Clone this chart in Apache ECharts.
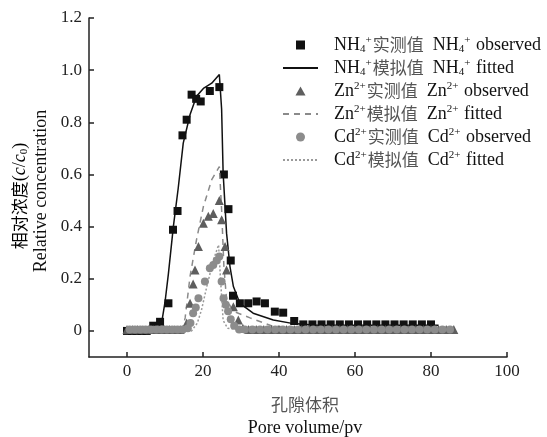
<!DOCTYPE html>
<html>
<head>
<meta charset="utf-8">
<script src="https://cdn.jsdelivr.net/npm/echarts@6/dist/echarts.min.js"></script>
<style>
  html, body { margin: 0; padding: 0; background: #fff; }
  #chart { width: 547px; height: 437px; }
</style>
</head>
<body>
<div id="chart"></div>
<script>
// 数据 (x: pore volume, y: c/c0)
const nh4Observed = [
  [0, 0], [1.3, 0], [2.6, 0], [3.9, 0], [5.2, 0], [6.9, 0.02], [8.7, 0.035],
  [10.9, 0.106], [12.1, 0.388], [13.3, 0.46], [14.6, 0.75], [15.7, 0.81],
  [17.0, 0.906], [18.2, 0.89], [19.4, 0.88], [21.8, 0.92], [24.3, 0.935],
  [25.5, 0.6], [26.7, 0.467], [27.3, 0.27], [27.9, 0.135], [29.7, 0.106],
  [31.9, 0.106], [34.1, 0.113], [36.3, 0.106], [38.9, 0.074], [41.1, 0.07],
  [44.0, 0.038], [46.4, 0.025], [48.8, 0.025], [51.2, 0.025], [53.6, 0.025],
  [56.0, 0.025], [58.4, 0.025], [60.8, 0.025], [63.2, 0.025], [65.6, 0.025],
  [68.0, 0.025], [70.4, 0.025], [72.8, 0.025], [75.2, 0.025], [77.6, 0.025],
  [80.0, 0.025]
]
const nh4Fitted = [
  [0, 0], [7.4, 0], [9.1, 0.03], [10.0, 0.11], [10.9, 0.22], [12.2, 0.4],
  [13.5, 0.55], [14.8, 0.72], [16.6, 0.83], [18.3, 0.9], [20.1, 0.93],
  [22.3, 0.95], [24.3, 0.983], [24.9, 0.85], [25.3, 0.605], [26.2, 0.375],
  [27.1, 0.247], [28.0, 0.17], [29.7, 0.106], [33.2, 0.068], [38.5, 0.042],
  [43.8, 0.028], [50, 0.022], [82, 0.022]
]
const znObserved = [
  [0, 0.005], [1.4, 0.005], [2.8, 0.005], [4.2, 0.005], [5.6, 0.005], [7.0, 0.005],
  [8.4, 0.005], [9.8, 0.005], [11.2, 0.005], [12.6, 0.005], [14.0, 0.005],
  [15.7, 0.03], [16.6, 0.106], [17.4, 0.18], [17.9, 0.234], [18.8, 0.324],
  [20.1, 0.413], [21.4, 0.44], [22.7, 0.45], [24.3, 0.5], [24.9, 0.426],
  [25.8, 0.324], [26.2, 0.234], [28.0, 0.093], [29.3, 0.042], [30.5, 0.01],
  [32.0, 0.005], [34.0, 0.005], [36.0, 0.005], [38.0, 0.005], [40.0, 0.005],
  [42.0, 0.005], [44.0, 0.005], [46.0, 0.005], [48.0, 0.005], [50.0, 0.005],
  [52.0, 0.005], [54.0, 0.005], [56.0, 0.005], [58.0, 0.005], [60.0, 0.005],
  [62.0, 0.005], [64.0, 0.005], [66.0, 0.005], [68.0, 0.005], [70.0, 0.005],
  [72.0, 0.005], [74.0, 0.005], [76.0, 0.005], [78.0, 0.005], [80.0, 0.005],
  [82.0, 0.005], [84.0, 0.005], [86.0, 0.005]
]
const znFitted = [
  [0, 0], [14.5, 0], [15.3, 0.05], [16.6, 0.21], [18.3, 0.35], [20.1, 0.477],
  [22.3, 0.58], [24.3, 0.63], [24.9, 0.465], [25.5, 0.247], [26.2, 0.12],
  [28.0, 0.075], [32.4, 0.05], [38.0, 0.02], [45.0, 0.01], [86.0, 0.01]
]
const cdObserved = [
  [0.7, 0.005], [2.1, 0.005], [3.5, 0.005], [4.9, 0.005], [6.3, 0.005], [7.7, 0.005],
  [9.1, 0.005], [10.5, 0.005], [11.9, 0.005], [13.3, 0.005], [14.7, 0.005],
  [16.0, 0.01], [16.7, 0.03], [17.4, 0.068], [18.1, 0.09], [18.8, 0.125],
  [20.5, 0.19], [21.8, 0.24], [22.7, 0.253], [23.6, 0.27], [24.3, 0.285],
  [24.9, 0.19], [25.4, 0.125], [26.0, 0.1], [26.6, 0.075], [27.3, 0.045],
  [28.2, 0.02], [29.5, 0.005], [31.0, 0.005], [33.0, 0.005], [35.0, 0.005],
  [37.0, 0.005], [39.0, 0.005], [41.0, 0.005], [43.0, 0.005], [45.0, 0.005],
  [47.0, 0.005], [49.0, 0.005], [51.0, 0.005], [53.0, 0.005], [55.0, 0.005],
  [57.0, 0.005], [59.0, 0.005], [61.0, 0.005], [63.0, 0.005], [65.0, 0.005],
  [67.0, 0.005], [69.0, 0.005], [71.0, 0.005], [73.0, 0.005], [75.0, 0.005],
  [77.0, 0.005], [79.0, 0.005], [81.0, 0.005], [83.0, 0.005], [85.0, 0.005]
]
const cdFitted = [
  [0, 0], [17.0, 0], [18.5, 0.03], [19.6, 0.08], [21.0, 0.17], [22.7, 0.27],
  [24.1, 0.33], [24.6, 0.2], [25.3, 0.04], [26.5, 0.01], [30.0, 0.005],
  [86.0, 0.005]
]
const xTicks = [0, 20, 40, 60, 80, 100]
const yTicks = [0, 0.2, 0.4, 0.6, 0.8, 1.0, 1.2]

const serif = '"Liberation Serif", "Noto Sans CJK SC", serif'
const cjk = '"Noto Sans CJK SC", "Liberation Serif", serif'

const legendText = {
  nh4Obs: "{t|NH}{sub|4}{sup|+}{c|实测值}{t|  NH}{sub|4}{sup|+}{t| observed}",
  nh4Fit: "{t|NH}{sub|4}{sup|+}{c|模拟值}{t|  NH}{sub|4}{sup|+}{t| fitted}",
  znObs: "{t|Zn}{sup|2+}{c|实测值}{t|  Zn}{sup|2+}{t| observed}",
  znFit: "{t|Zn}{sup|2+}{c|模拟值}{t|  Zn}{sup|2+}{t| fitted}",
  cdObs: "{t|Cd}{sup|2+}{c|实测值}{t|  Cd}{sup|2+}{t| observed}",
  cdFit: "{t|Cd}{sup|2+}{c|模拟值}{t|  Cd}{sup|2+}{t| fitted}",
}

const richText = {
  t: { fontFamily: serif, fontSize: 18, lineHeight: 20, color: "#111" },
  c: { fontFamily: cjk, fontSize: 17, lineHeight: 20, color: "#555" },
  sub: { fontFamily: serif, fontSize: 11, lineHeight: 10, color: "#111", padding: [9, 0, 0, 0] },
  sup: { fontFamily: serif, fontSize: 11, lineHeight: 10, color: "#111", padding: [0, 1, 9, 0] },
  i: { fontFamily: serif, fontSize: 18, lineHeight: 20, fontStyle: "italic", color: "#111" },
}

const lineIcon = { itemStyle: { opacity: 0 } }

const chart = echarts.init(document.getElementById("chart"))

const option = {
  animation: false,
  backgroundColor: "#fff",
  grid: { left: 89, right: 40, top: 18, bottom: 80, outerBoundsMode: "none" },
  legend: {
    data: [
      { name: "nh4Obs", icon: "path://M0,0L10,0L10,10L0,10Z" },
      Object.assign({ name: "nh4Fit" }, lineIcon),
      { name: "znObs", icon: "path://M5,0L10,9L0,9Z" },
      Object.assign({ name: "znFit" }, lineIcon),
      { name: "cdObs", icon: "circle" },
      Object.assign({ name: "cdFit" }, lineIcon),
    ],
    orient: "vertical",
    left: 282,
    top: 35,
    padding: 0,
    itemWidth: 35,
    itemHeight: 9,
    itemGap: 3,
    formatter: (name) => legendText[name],
    textStyle: { padding: [0, 0, 0, 11], rich: richText },
  },
  xAxis: {
    type: "value",
    min: -10,
    max: 100,
    axisLine: { onZero: false, lineStyle: { color: "#222", width: 1.5 } },
    axisTick: { inside: true, length: 5, customValues: xTicks, lineStyle: { color: "#222", width: 1.5 } },
    axisLabel: { customValues: xTicks, margin: 6, fontFamily: serif, fontSize: 17, color: "#222" },
    splitLine: { show: false },
  },
  yAxis: {
    type: "value",
    min: -0.1,
    max: 1.2,
    axisLine: { show: true, onZero: false, lineStyle: { color: "#222", width: 1.5 } },
    axisTick: { show: true, inside: true, length: 5, customValues: yTicks, lineStyle: { color: "#222", width: 1.5 } },
    axisLabel: {
      customValues: yTicks,
      margin: 7,
      fontFamily: serif,
      fontSize: 17,
      color: "#222",
      formatter: (v) => (Math.abs(v) < 1e-9 ? "0" : v.toFixed(1)),
    },
    splitLine: { show: false },
  },
  graphic: [
    {
      type: "text", x: 20, y: 196, rotation: Math.PI / 2,
      style: {
        text: "{c|相对浓度}{t|(}{i|c}{t|/}{i|c}{sub|0}{t|)}",
        rich: richText, align: "center", verticalAlign: "middle",
      },
    },
    {
      type: "text", x: 41, y: 191, rotation: Math.PI / 2,
      style: {
        text: "Relative concentration", fontFamily: serif, fontSize: 18, fill: "#111",
        align: "center", verticalAlign: "middle",
      },
    },
    {
      type: "text", x: 305, y: 405,
      style: { text: "孔隙体积", fontFamily: cjk, fontSize: 17, fill: "#555", align: "center", verticalAlign: "middle" },
    },
    {
      type: "text", x: 305, y: 428,
      style: { text: "Pore volume/pv", fontFamily: serif, fontSize: 18, fill: "#111", align: "center", verticalAlign: "middle" },
    },
  ],
  series: [
    {
      name: "nh4Fit", type: "line", data: nh4Fitted, symbol: "none", z: 2,
      lineStyle: { color: "#111", width: 1.5 }, itemStyle: { color: "#111" },
    },
    {
      name: "nh4Obs", type: "scatter", data: nh4Observed, symbol: "rect", symbolSize: 8, z: 3,
      itemStyle: { color: "#111", opacity: 1 },
    },
    {
      name: "znFit", type: "line", data: znFitted, symbol: "none", z: 4,
      lineStyle: { color: "#8a8a8a", width: 1.5, type: [6, 5] }, itemStyle: { color: "#8a8a8a" },
    },
    {
      name: "cdFit", type: "line", data: cdFitted, symbol: "none", z: 4,
      lineStyle: { color: "#9a9a9a", width: 1.5, type: [2, 2] }, itemStyle: { color: "#9a9a9a" },
    },
    {
      name: "znObs", type: "scatter", data: znObserved, symbol: "triangle", symbolSize: 9, z: 5,
      itemStyle: { color: "#5e5e5e", opacity: 1 },
    },
    {
      name: "cdObs", type: "scatter", data: cdObserved, symbol: "circle", symbolSize: 8, z: 6,
      itemStyle: { color: "#8c8c8c", opacity: 1 },
    },
  ],
}

chart.setOption(option)
window.addEventListener("resize", () => {
  chart.resize()
})
</script>
</body>
</html>
